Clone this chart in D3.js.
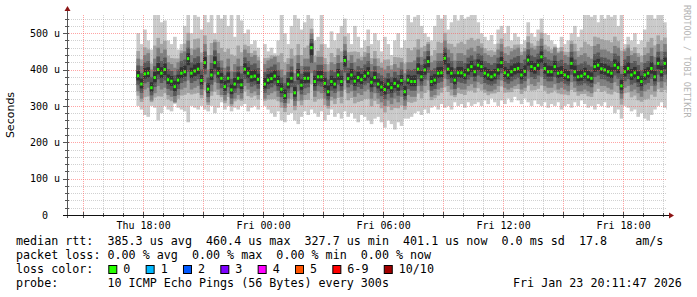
<!DOCTYPE html>
<html>
<head>
<meta charset="utf-8">
<script src="https://cdn.jsdelivr.net/npm/d3@7"></script>
<style>
  body { margin: 0; background: #fff; }
  svg { display: block; }
  text { font-family: "DejaVu Sans Mono", monospace; white-space: pre; }
</style>
</head>
<body>
<svg id="smoke" width="697" height="297"></svg>
<script>
// 10 minute samples, first one Thu 17:40 UTC, null = no data
const firstSample = "2026-01-22T17:40:00Z";
const stepMinutes = 10;

const median = [
  383, 360, 388, 390, 350, 378, 400, 390, 400, 372,
  368, 353, 371, 390, 394, 430, 390, 396, 401, 370,
  419, 346, 385, 419, 390, 376, 353, 376, 344, 360,
  376, 358, 401, 390, 380, 382, 373, null, 360, 371,
  375, 382, 367, 346, 328, 360, 376, 336, 385, 357,
  376, 376, 460, 367, 380, 380, 362, 339, 367, 360,
  385, 367, 425, 375, 385, 368, 378, 372, 382, 390,
  365, 378, 360, 352, 345, 360, 350, 362, 355, 370,
  339, 371, 367, 367, 401, 380, 399, 422, 367, 371,
  390, 391, 431, 401, 390, 371, 391, 391, 385, 399,
  408, 394, 412, 408, 390, 385, 380, 385, 399, 419,
  391, 385, 394, 400, 403, 385, 395, 426, 408, 403,
  412, 435, 403, 394, 394, 408, 390, 392, 385, 380,
  417, 394, 380, 382, 388, 380, 376, 408, 412, 402,
  399, 394, 390, 412, 405, 355, 394, 403, 385, 391,
  378, 367, 385, 390, 403, 380, 417, 394, 417, 401,
];

// ping 1 of 10 (fastest)
const pingMin = [
  300, 290, 275, 270, 300, 295, 260, 280, 300, 290,
  285, 305, 295, 290, 285, 255, 300, 295, 290, 300,
  290, 285, 300, 280, 295, 310, 290, 300, 285, 295,
  290, 300, 305, 285, 295, 300, 290, null, 300, 290,
  280, 270, 285, 260, 255, 275, 280, 260, 250, 270,
  285, 275, 290, 280, 270, 285, 260, 275, 290, 270,
  280, 265, 285, 270, 280, 265, 255, 275, 270, 260,
  250, 265, 270, 255, 240, 260, 250, 235, 255, 245,
  265, 265, 270, 280, 285, 275, 290, 280, 295, 300,
  290, 305, 295, 300, 290, 310, 300, 305, 295, 310,
  300, 305, 310, 300, 315, 305, 320, 310, 300, 315,
  305, 320, 310, 325, 315, 305, 320, 310, 300, 315,
  305, 300, 310, 295, 305, 300, 310, 290, 300, 305,
  295, 310, 300, 315, 305, 295, 300, 290, 305, 300,
  310, 295, 300, 280, 290, 265, 300, 295, 285, 290,
  270, 280, 265, 260, 275, 290, 300, 310, 295, 290,
];

// ping 3 of 10
const pingLo = [
  340, 320, 345, 350, 315, 335, 355, 345, 350, 330,
  325, 310, 330, 345, 350, 370, 345, 350, 355, 330,
  365, 310, 340, 365, 345, 330, 315, 335, 305, 320,
  330, 320, 355, 345, 335, 340, 330, null, 320, 330,
  335, 340, 325, 310, 295, 320, 335, 300, 340, 315,
  330, 335, 390, 325, 340, 335, 320, 300, 325, 320,
  340, 325, 370, 335, 340, 325, 335, 330, 340, 345,
  320, 335, 320, 310, 300, 315, 305, 320, 310, 325,
  300, 330, 325, 325, 355, 340, 355, 370, 325, 330,
  345, 350, 375, 355, 345, 330, 350, 345, 345, 355,
  360, 350, 365, 360, 345, 340, 340, 345, 355, 370,
  350, 345, 350, 355, 360, 345, 350, 375, 360, 355,
  365, 380, 355, 350, 350, 360, 345, 350, 345, 340,
  365, 350, 340, 340, 345, 340, 335, 360, 365, 355,
  355, 350, 345, 365, 355, 320, 350, 355, 340, 345,
  335, 325, 340, 345, 355, 340, 365, 350, 365, 355,
];

// ping 8 of 10
const pingHi = [
  430, 410, 440, 445, 400, 430, 460, 445, 455, 420,
  415, 405, 420, 445, 450, 480, 440, 455, 460, 420,
  470, 400, 440, 475, 445, 425, 405, 430, 395, 415,
  430, 410, 455, 445, 435, 440, 425, null, 415, 425,
  430, 435, 420, 400, 385, 415, 430, 390, 440, 410,
  430, 430, 500, 420, 435, 435, 415, 395, 420, 415,
  440, 420, 470, 425, 440, 420, 430, 425, 435, 445,
  415, 430, 410, 405, 400, 410, 400, 415, 405, 420,
  390, 420, 420, 425, 455, 435, 450, 470, 420, 425,
  445, 445, 480, 455, 445, 425, 445, 445, 440, 455,
  460, 450, 465, 460, 445, 440, 435, 440, 455, 470,
  445, 440, 450, 455, 460, 440, 450, 475, 460, 455,
  465, 485, 455, 450, 445, 460, 445, 450, 440, 435,
  470, 450, 435, 440, 445, 435, 430, 465, 470, 455,
  455, 450, 445, 465, 460, 410, 450, 460, 440, 445,
  435, 420, 440, 445, 460, 435, 470, 450, 470, 455,
];

// ping 10 of 10 (slowest), graph is cut at 550
const pingMax = [
  500, 470, 510, 480, 455, 550, 550, 530, 535, 480,
  470, 490, 455, 470, 520, 550, 500, 550, 545, 510,
  550, 530, 550, 500, 550, 540, 550, 520, 550, 490,
  550, 535, 500, 510, 470, 480, 460, null, 470, 450,
  460, 445, 480, 550, 500, 470, 520, 550, 540, 510,
  530, 550, 540, 480, 490, 550, 470, 460, 505, 480,
  500, 520, 540, 500, 470, 520, 490, 460, 480, 510,
  470, 500, 480, 450, 490, 470, 440, 480, 500, 460,
  480, 550, 530, 545, 550, 520, 500, 490, 480, 520,
  550, 540, 550, 510, 530, 550, 535, 550, 540, 545,
  550, 550, 530, 500, 490, 480, 495, 470, 510, 520,
  500, 520, 480, 500, 490, 470, 480, 530, 500, 490,
  510, 540, 500, 495, 480, 470, 460, 490, 470, 480,
  500, 520, 490, 510, 550, 550, 545, 550, 530, 550,
  540, 550, 545, 550, 520, 550, 470, 490, 480, 500,
  470, 480, 510, 550, 550, 540, 550, 550, 530, 510,
];

const yTicks = [0, 100, 200, 300, 400, 500];
const legendRtt = "median rtt:  385.3 us avg  460.4 us max  327.7 us min  401.1 us now  0.0 ms sd  17.8    am/s";
const legendLoss = "packet loss: 0.00 % avg  0.00 % max  0.00 % min  0.00 % now";
const lossLabels = ["0", "1", "2", "3", "4", "5", "6-9", "10/10"];
const lossColors = ["#26ff00", "#00b8ff", "#0059ff", "#7e00ff", "#ff00ff", "#ff5500", "#ff0000", "#a10000"];
const probeText = "probe:       10 ICMP Echo Pings (56 Bytes) every 300s";
const stampText = "Fri Jan 23 20:11:47 2026";

const plot = { left: 67, right: 667, top: 15, bottom: 215 };

const x = d3
  .scaleUtc()
  .domain([new Date("2026-01-22T14:11:47Z"), new Date("2026-01-23T20:11:47Z")])
  .range([plot.left, plot.right]);

const y = d3.scaleLinear().domain([0, 550]).range([plot.bottom, plot.top]);

const start = new Date(firstSample);
const rows = median
  .map((m, i) => ({
    t0: d3.utcMinute.offset(start, i * stepMinutes),
    t1: d3.utcMinute.offset(start, (i + 1) * stepMinutes),
    min: pingMin[i],
    lo: pingLo[i],
    med: m,
    hi: pingHi[i],
    max: pingMax[i],
  }))
  .filter((d) => d.med != null);

// smoke shades, outer pair lightest; pings 2/9 and 4..7 sit between the stored ones
const shades = [
  { fill: "#cacaca", a: (d) => d.min, b: (d) => d.max },
  { fill: "#a4a4a4", a: (d) => d.lo - (d.lo - d.min) * 0.3, b: (d) => d.hi + (d.max - d.hi) * 0.3 },
  { fill: "#7e7e7e", a: (d) => d.lo, b: (d) => d.hi },
  { fill: "#585858", a: (d) => d.med - (d.med - d.lo) * 0.6, b: (d) => d.med + (d.hi - d.med) * 0.6 },
  { fill: "#323232", a: (d) => d.med - (d.med - d.lo) * 0.3, b: (d) => d.med + (d.hi - d.med) * 0.3 },
];

const svg = d3.select("#smoke");

svg
  .append("defs")
  .append("clipPath")
  .attr("id", "plot-clip")
  .append("rect")
  .attr("x", plot.left)
  .attr("y", plot.top)
  .attr("width", plot.right - plot.left)
  .attr("height", plot.bottom - plot.top);

const dataG = svg.append("g").attr("clip-path", "url(#plot-clip)");

shades.forEach((s) => {
  dataG
    .append("g")
    .selectAll("rect")
    .data(rows)
    .join("rect")
    .attr("x", (d) => x(d.t0))
    .attr("width", (d) => x(d.t1) - x(d.t0) + 0.3)
    .attr("y", (d) => y(s.b(d)))
    .attr("height", (d) => y(s.a(d)) - y(s.b(d)))
    .attr("fill", s.fill);
});

dataG
  .append("g")
  .selectAll("rect")
  .data(rows)
  .join("rect")
  .attr("x", (d) => (x(d.t0) + x(d.t1)) / 2 - 1.2)
  .attr("width", 2.4)
  .attr("y", (d) => y(d.med) - 1.5)
  .attr("height", 3)
  .attr("fill", lossColors[0]);

// grid on top, like rrdtool
const grid = svg.append("g").attr("stroke-dasharray", "1,1").attr("stroke-width", 1);
const hourTicks = x.ticks(d3.utcHour.every(1));
const majorHours = x.ticks(d3.utcHour.every(3)).map((d) => +d);
const minorY = d3.range(20, 551, 20);

grid
  .selectAll(".vminor")
  .data(hourTicks.filter((d) => !majorHours.includes(+d)))
  .join("line")
  .attr("x1", (d) => Math.round(x(d)) + 0.5)
  .attr("x2", (d) => Math.round(x(d)) + 0.5)
  .attr("y1", plot.top)
  .attr("y2", plot.bottom)
  .attr("stroke", "#8c8c8c")
  .attr("stroke-opacity", 0.4);

grid
  .selectAll(".hminor")
  .data(minorY.filter((v) => v % 100 !== 0))
  .join("line")
  .attr("x1", plot.left)
  .attr("x2", plot.right)
  .attr("y1", (d) => Math.round(y(d)) + 0.5)
  .attr("y2", (d) => Math.round(y(d)) + 0.5)
  .attr("stroke", "#8c8c8c")
  .attr("stroke-opacity", 0.4);

grid
  .selectAll(".vmajor")
  .data(majorHours)
  .join("line")
  .attr("x1", (d) => Math.round(x(d)) + 0.5)
  .attr("x2", (d) => Math.round(x(d)) + 0.5)
  .attr("y1", plot.top)
  .attr("y2", plot.bottom)
  .attr("stroke", "#ff5a5a")
  .attr("stroke-opacity", 0.55);

grid
  .selectAll(".hmajor")
  .data(yTicks.slice(1))
  .join("line")
  .attr("x1", plot.left)
  .attr("x2", plot.right)
  .attr("y1", (d) => Math.round(y(d)) + 0.5)
  .attr("y2", (d) => Math.round(y(d)) + 0.5)
  .attr("stroke", "#ff5a5a")
  .attr("stroke-opacity", 0.55);

// axes
const axes = svg.append("g").attr("shape-rendering", "crispEdges");

axes
  .selectAll(".ytick")
  .data(d3.range(0, 551, 20))
  .join("line")
  .attr("x1", (d) => (d % 100 === 0 ? plot.left - 4 : plot.left - 2))
  .attr("x2", plot.left + 2)
  .attr("y1", (d) => Math.round(y(d)) + 0.5)
  .attr("y2", (d) => Math.round(y(d)) + 0.5)
  .attr("stroke", "#555");

axes
  .selectAll(".xtick")
  .data(hourTicks)
  .join("line")
  .attr("x1", (d) => Math.round(x(d)) + 0.5)
  .attr("x2", (d) => Math.round(x(d)) + 0.5)
  .attr("y1", (d) => (majorHours.includes(+d) ? plot.bottom - 3 : plot.bottom - 2))
  .attr("y2", (d) => (majorHours.includes(+d) ? plot.bottom + 3 : plot.bottom + 2))
  .attr("stroke", "#555");

axes
  .append("line")
  .attr("x1", plot.left + 0.5)
  .attr("x2", plot.left + 0.5)
  .attr("y1", plot.bottom + 3)
  .attr("y2", plot.top - 5)
  .attr("stroke", "#555");

axes
  .append("line")
  .attr("x1", plot.left - 4)
  .attr("x2", plot.right + 3)
  .attr("y1", plot.bottom + 0.5)
  .attr("y2", plot.bottom + 0.5)
  .attr("stroke", "#111");

svg
  .append("path")
  .attr("d", `M${plot.left + 0.5},${plot.top - 9}l-3,5h6z`)
  .attr("fill", "#8c1414");

svg
  .append("path")
  .attr("d", `M${plot.right + 7},${plot.bottom + 0.5}l-5,-3v6z`)
  .attr("fill", "#8c1414");

svg
  .append("g")
  .attr("transform", `translate(0,${plot.bottom})`)
  .call(
    d3
      .axisBottom(x)
      .tickValues(x.ticks(d3.utcHour.every(6)))
      .tickFormat(d3.utcFormat("%a %H:%M"))
      .tickSize(0)
      .tickPadding(7)
  )
  .call((g) => g.select(".domain").remove())
  .selectAll("text")
  .attr("font-family", "DejaVu Sans Mono")
  .attr("font-size", 10)
  .attr("fill", "#000");

svg
  .append("g")
  .attr("transform", `translate(${plot.left},0)`)
  .call(
    d3
      .axisLeft(y)
      .tickValues(yTicks)
      .tickFormat((d) => (d ? d + " u" : "0  "))
      .tickSize(0)
      .tickPadding(7)
  )
  .call((g) => g.select(".domain").remove())
  .selectAll("text")
  .attr("font-family", "DejaVu Sans Mono")
  .attr("font-size", 10)
  .attr("fill", "#000");

svg
  .append("text")
  .attr("transform", `translate(14,${(plot.top + plot.bottom) / 2}) rotate(-90)`)
  .attr("text-anchor", "middle")
  .style("font-family", "'DejaVu Sans', sans-serif")
  .attr("font-size", 11)
  .text("Seconds");

svg
  .append("text")
  .attr("transform", "translate(684,5) rotate(90)")
  .attr("font-size", 8.5)
  .attr("fill", "#b4b4b4")
  .text("RRDTOOL / TOBI OETIKER");

// legend
const legend = svg.append("g").attr("font-size", 11.7).attr("fill", "#000");
const lineY = [245, 259, 273, 287];

legend.append("text").attr("x", 16).attr("y", lineY[0]).text(legendRtt);
legend.append("text").attr("x", 16).attr("y", lineY[1]).text(legendLoss);
legend.append("text").attr("x", 16).attr("y", lineY[2]).text("loss color:");
legend.append("text").attr("x", 16).attr("y", lineY[3]).text(probeText);
legend.append("text").attr("x", 513).attr("y", lineY[3]).text(stampText);

let boxX = 108.3;
lossLabels.forEach((lab, i) => {
  legend
    .append("rect")
    .attr("x", boxX + 0.5)
    .attr("y", lineY[2] - 7.5)
    .attr("width", 8)
    .attr("height", 8)
    .attr("fill", lossColors[i])
    .attr("stroke", "#000");
  legend
    .append("text")
    .attr("x", boxX + 15)
    .attr("y", lineY[2])
    .text(lab);
  boxX += 15 + lab.length * 7.04 + 15.3;
});
</script>
</body>
</html>
